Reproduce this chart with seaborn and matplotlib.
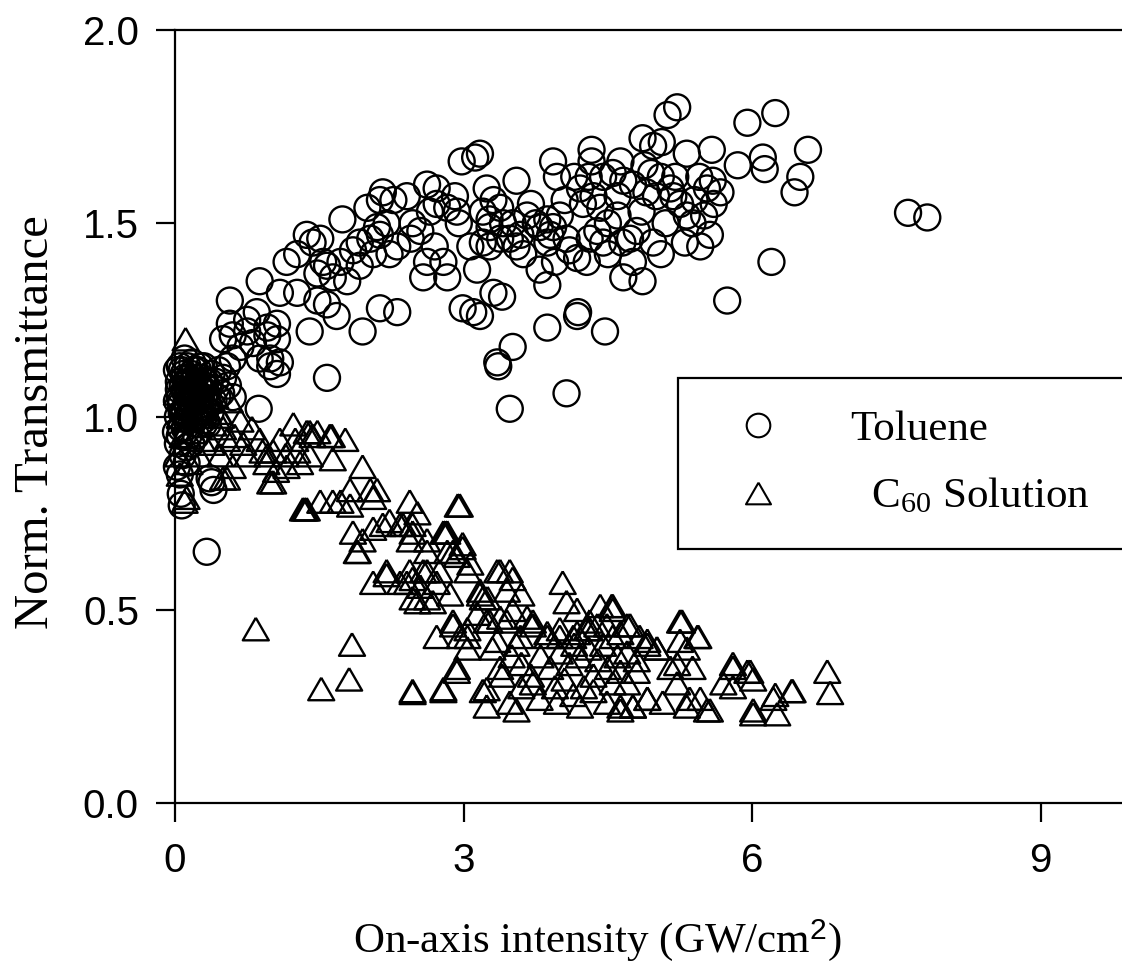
import numpy as np
import pandas as pd
import matplotlib
matplotlib.use("Agg")
import matplotlib.pyplot as plt
from matplotlib.lines import Line2D
import seaborn as sns

# ---------------- data ----------------
toluene_x = [
    7.62, 7.82,
    5.12, 5.22, 5.95, 6.24, 6.58, 6.50, 6.44, 5.85, 6.11, 6.13, 6.20, 5.74, 5.58, 5.32,
    4.86, 4.97, 5.06, 5.59, 5.67, 5.53, 5.56, 5.46, 5.15, 5.18, 5.38, 5.32, 4.66, 4.76,
    4.63, 4.80, 4.73, 4.97, 4.76, 4.66, 4.86, 4.33, 4.33, 3.93, 3.97, 4.21, 4.35, 4.42,
    4.24, 4.39, 4.31, 4.45, 4.28, 4.18, 4.07, 4.10, 3.87, 3.93, 3.79, 3.87, 3.90, 3.79,
    3.87, 3.55, 3.59, 3.66, 3.51, 3.48, 3.55, 3.38, 3.27, 3.24, 3.31, 3.27, 3.20, 3.38,
    3.41, 3.17, 3.31, 3.40, 3.17, 3.87, 4.19, 4.18, 4.47, 3.51, 3.36, 4.07, 3.48,
    4.95, 5.05, 5.00, 4.90, 4.55, 4.60, 4.50, 4.60, 5.10, 5.25, 5.40, 5.45, 5.50, 4.85,
    5.20, 4.45, 3.70, 3.75, 3.62, 4.00, 4.05, 4.15, 3.95, 4.30, 5.60, 5.30, 4.50, 4.65,
    4.88, 5.05,
    1.74, 1.37, 1.43, 1.51, 1.16, 1.27, 0.88, 0.57, 1.09, 1.27, 1.48, 1.58, 1.64, 1.79,
    1.54, 1.72, 1.92, 2.03, 2.10, 2.13, 2.06, 1.85, 1.92, 2.23, 2.31, 2.00, 2.13, 2.27,
    2.41, 2.16, 1.58, 1.48, 1.68, 1.40, 1.95, 2.13, 2.31, 2.55, 2.47, 2.62, 2.58, 2.83,
    2.79, 2.72, 2.83, 2.93, 2.72, 2.62, 2.99, 3.10, 3.14, 3.07, 3.20, 3.27, 3.35, 1.58,
    2.98, 3.12, 2.91, 2.65, 2.45, 2.70, 2.95, 2.20,
    0.57, 0.60, 0.50, 0.75, 0.75, 0.68, 0.81, 0.96, 1.06, 0.99, 1.09, 0.88, 0.96, 1.06,
    0.85, 0.99, 1.06, 0.60, 0.54, 0.87,
    0.07, 0.05, 0.02, 0.40, 0.36, 0.33, 0.08, 0.12,
    0.03, 0.05, 0.08, 0.10, 0.12, 0.15, 0.18, 0.20, 0.22, 0.25, 0.28, 0.30, 0.32, 0.35,
    0.38, 0.40, 0.05, 0.10, 0.15, 0.20, 0.25, 0.07, 0.13, 0.18, 0.24, 0.30, 0.42, 0.45,
    0.48, 0.03, 0.12, 0.17, 0.22, 0.27, 0.09, 0.02, 0.04, 0.16, 0.34, 0.50, 0.55, 0.60,
    0.38, 0.06,
    0.04, 0.06, 0.09, 0.11, 0.14, 0.16, 0.19, 0.21, 0.23, 0.26, 0.29, 0.31, 0.33, 0.36,
    0.02, 0.07, 0.10, 0.13, 0.17, 0.20, 0.24, 0.27, 0.31, 0.35, 0.44, 0.06, 0.14, 0.22,
    0.29, 0.37, 0.01, 0.05, 0.10, 0.15, 0.19, 0.26,
]
toluene_y = [
    1.527, 1.515,
    1.78, 1.80, 1.76, 1.785, 1.69, 1.62, 1.58, 1.65, 1.67, 1.64, 1.40, 1.30, 1.69, 1.68,
    1.72, 1.70, 1.71, 1.61, 1.58, 1.59, 1.47, 1.44, 1.59, 1.57, 1.50, 1.52, 1.61, 1.60,
    1.66, 1.48, 1.46, 1.45, 1.40, 1.36, 1.35, 1.69, 1.66, 1.66, 1.62, 1.59, 1.57, 1.54,
    1.55, 1.48, 1.46, 1.45, 1.40, 1.41, 1.46, 1.43, 1.51, 1.49, 1.49, 1.45, 1.47, 1.38,
    1.34, 1.61, 1.47, 1.52, 1.50, 1.46, 1.44, 1.46, 1.44, 1.59, 1.56, 1.51, 1.53, 1.54,
    1.50, 1.68, 1.32, 1.31, 1.26, 1.23, 1.27, 1.26, 1.22, 1.18, 1.13, 1.06, 1.02,
    1.63, 1.62, 1.57, 1.58, 1.63, 1.57, 1.50, 1.52, 1.50, 1.55, 1.56, 1.62, 1.52, 1.53,
    1.62, 1.62, 1.55, 1.50, 1.42, 1.52, 1.56, 1.62, 1.40, 1.62, 1.55, 1.45, 1.42, 1.45,
    1.65, 1.42,
    1.51, 1.47, 1.45, 1.46, 1.40, 1.42, 1.35, 1.30, 1.32, 1.32, 1.37, 1.39, 1.36, 1.35,
    1.40, 1.40, 1.45, 1.46, 1.49, 1.47, 1.42, 1.43, 1.39, 1.42, 1.44, 1.54, 1.56, 1.56,
    1.57, 1.58, 1.29, 1.30, 1.26, 1.22, 1.22, 1.28, 1.27, 1.48, 1.50, 1.40, 1.36, 1.36,
    1.40, 1.55, 1.54, 1.53, 1.59, 1.60, 1.28, 1.27, 1.38, 1.44, 1.45, 1.49, 1.14, 1.10,
    1.66, 1.67, 1.57, 1.53, 1.46, 1.44, 1.50, 1.50,
    1.24, 1.21, 1.20, 1.25, 1.22, 1.18, 1.19, 1.21, 1.20, 1.15, 1.14, 1.15, 1.23, 1.24,
    1.27, 1.13, 1.11, 1.15, 1.13, 1.02,
    0.77, 0.85, 0.87, 0.81, 0.84, 0.65, 0.90, 0.92,
    1.00, 1.05, 1.08, 1.10, 1.03, 1.06, 1.09, 1.12, 1.04, 1.08, 1.10, 1.05, 1.02, 1.07,
    1.11, 1.04, 0.95, 0.97, 0.99, 1.00, 0.98, 1.12, 1.13, 1.14, 1.12, 1.13, 1.09, 1.12,
    1.06, 0.93, 0.88, 0.93, 0.95, 1.01, 1.01, 1.04, 1.09, 1.02, 0.98, 1.10, 1.08, 1.05,
    0.83, 0.80,
    1.07, 1.03, 1.11, 1.06, 1.09, 1.04, 1.07, 1.10, 1.06, 1.03, 1.07, 1.09, 1.06, 1.09,
    1.12, 1.01, 1.07, 1.00, 1.11, 1.07, 1.02, 1.05, 1.08, 1.03, 1.05, 0.97, 0.95, 1.06,
    0.99, 1.01, 0.96, 1.13, 1.15, 1.10, 1.05, 1.13,
]

c60_x = [
    0.11, 0.10, 0.50, 1.02, 1.33, 0.84, 1.84, 1.81, 1.52, 2.47, 2.79, 2.94,
    1.23, 1.43, 1.61, 1.77, 1.64, 1.95, 1.02, 0.91,
    1.51, 1.72, 1.82, 2.03, 2.06,
    1.85, 2.06, 2.16, 1.95, 1.89,
    2.44, 2.52, 2.37, 2.47, 2.62, 2.83,
    2.06, 2.20, 2.41, 2.55, 2.72, 2.47, 2.62, 2.68,
    2.89, 2.99, 3.07, 3.17, 3.20,
    2.72, 2.89, 2.96, 3.04, 2.93, 3.24, 3.24,
    1.37, 1.48, 1.63, 1.40, 1.82, 2.10, 1.64, 1.35, 2.96,
    2.23, 2.34, 2.47, 2.79, 2.99, 1.90, 2.44, 2.62, 2.83, 2.93,
    2.20, 2.34, 2.47, 2.62, 2.75, 2.86, 3.04, 2.52, 3.17, 3.38, 3.51,
    4.03, 4.42, 4.55, 4.07, 4.18, 4.31,
    2.89, 3.04, 3.14, 3.24, 3.38, 3.51, 3.66, 3.72, 3.87, 4.00, 4.18, 4.31, 4.49, 4.63,
    2.81, 2.58, 2.44, 3.35, 3.48, 4.54,
    3.04, 3.27, 3.45, 3.59, 3.72, 3.87, 4.00, 4.14, 4.28, 4.39, 4.55, 4.70, 4.83, 4.91,
    5.01, 5.25, 5.43, 5.32, 5.22,
    2.93, 3.38, 3.20, 3.48, 3.55, 3.72, 3.79, 3.97, 4.14, 4.21, 4.35, 4.49, 4.63,
    4.76, 4.70, 4.91, 5.07, 5.22, 5.35, 5.46, 5.56, 5.70, 5.80, 5.98, 6.01, 6.22, 6.26,
    6.42, 6.78, 6.81, 2.47, 2.79,
    5.27, 5.44, 5.25, 5.80, 5.95, 6.01, 6.41, 6.24, 6.01, 5.53, 5.80, 5.15, 5.38, 4.73,
    4.91, 5.01, 4.63, 4.80, 4.55, 4.63, 4.76, 4.91, 5.32,
    3.30, 3.50, 3.60, 3.80, 3.90, 4.00, 4.10, 4.20, 4.30, 4.40, 4.50, 4.60, 4.70, 4.80,
    3.40, 3.70, 4.05, 4.35, 4.55, 3.95, 3.60, 4.25, 3.35, 3.55, 4.15, 4.45,
    3.25, 3.45, 3.60,
    0.99, 1.37, 1.40, 1.09, 1.27, 0.96, 1.16, 0.68, 0.54, 0.71, 0.47, 0.60, 0.54, 0.12,
    0.05, 0.10, 0.15, 0.20, 0.25, 0.30, 0.35, 0.40, 0.45, 0.08, 0.18, 0.28, 0.38, 0.12,
    0.22, 0.03, 0.57, 0.50, 0.62, 0.80, 0.75, 0.88, 0.05, 0.15, 0.25,
    0.95, 1.05, 1.15, 1.25, 1.30,
    0.07, 0.14, 0.21, 0.27, 0.33, 0.42, 0.48, 0.02, 0.11, 0.19,
]
c60_y = [
    1.20, 0.78, 0.84, 0.83, 0.76, 0.45, 0.41, 0.32, 0.295, 0.29, 0.295, 0.77,
    0.98, 0.95, 0.95, 0.94, 0.89, 0.87, 0.91, 0.91,
    0.78, 0.78, 0.77, 0.81, 0.79,
    0.70, 0.71, 0.72, 0.68, 0.65,
    0.78, 0.75, 0.72, 0.70, 0.68, 0.70,
    0.57, 0.59, 0.57, 0.56, 0.57, 0.53, 0.53, 0.52,
    0.65, 0.66, 0.62, 0.55, 0.53,
    0.43, 0.46, 0.43, 0.40, 0.35, 0.295, 0.25,
    0.96, 0.96, 0.95, 0.90, 0.81, 0.81, 0.78, 0.76, 0.77,
    0.73, 0.72, 0.72, 0.70, 0.67, 0.65, 0.68, 0.65, 0.65, 0.64,
    0.60, 0.57, 0.58, 0.60, 0.60, 0.54, 0.60, 0.52, 0.54, 0.60, 0.58,
    0.57, 0.51, 0.51, 0.52, 0.50, 0.47,
    0.47, 0.45, 0.49, 0.47, 0.48, 0.50, 0.48, 0.46, 0.44, 0.45, 0.44, 0.45, 0.46, 0.44,
    0.70, 0.60, 0.60, 0.60, 0.60, 0.51,
    0.43, 0.47, 0.47, 0.43, 0.47, 0.43, 0.43, 0.43, 0.45, 0.46, 0.43, 0.46, 0.43, 0.41,
    0.40, 0.47, 0.43, 0.40, 0.36,
    0.34, 0.35, 0.29, 0.26, 0.24, 0.31, 0.27, 0.26, 0.28, 0.25, 0.29, 0.26, 0.24,
    0.25, 0.31, 0.27, 0.26, 0.31, 0.27, 0.27, 0.24, 0.31, 0.35, 0.34, 0.24, 0.27, 0.23,
    0.29, 0.34, 0.285, 0.285, 0.29,
    0.47, 0.43, 0.42, 0.36, 0.34, 0.32, 0.29, 0.28, 0.23, 0.24, 0.30, 0.35, 0.35, 0.46,
    0.42, 0.40, 0.34, 0.34, 0.50, 0.25, 0.25, 0.27, 0.25,
    0.40, 0.38, 0.36, 0.38, 0.35, 0.39, 0.36, 0.38, 0.40, 0.37, 0.35, 0.38, 0.39, 0.37,
    0.33, 0.33, 0.32, 0.33, 0.31, 0.30, 0.30, 0.30, 0.42, 0.41, 0.41, 0.41,
    0.53, 0.55, 0.54,
    0.83, 0.76, 0.96, 0.94, 0.91, 0.90, 0.87, 0.99, 0.94, 0.93, 0.90, 0.87, 0.84, 0.79,
    1.00, 1.05, 1.08, 1.02, 1.06, 1.00, 1.04, 0.98, 1.01, 0.95, 0.96, 0.94, 0.93, 1.12,
    1.10, 0.90, 1.04, 0.97, 0.95, 0.97, 0.90, 0.94, 0.85, 0.88, 0.90,
    0.88, 0.86, 0.90, 0.94, 0.88,
    1.03, 1.07, 1.04, 1.08, 1.02, 1.05, 1.00, 1.06, 0.99, 1.01,
]

series_names = ["Toluene", "C$_{60}$ Solution"]
x_ticks = [0, 3, 6, 9]
y_ticks = [0.0, 0.5, 1.0, 1.5, 2.0]
x_label = "On-axis intensity (GW/cm$^{\\mathsf{2}}$)"
y_label = "Norm. Transmittance"

# ---------------- style ----------------
sns.set_style("ticks")
plt.rcParams["font.family"] = ["Liberation Sans", "DejaVu Sans"]
plt.rcParams["mathtext.fontset"] = "custom"
plt.rcParams["mathtext.rm"] = "Liberation Serif"
plt.rcParams["mathtext.it"] = "Liberation Serif:italic"
plt.rcParams["mathtext.bf"] = "Liberation Serif:bold"
plt.rcParams["mathtext.sf"] = "Liberation Sans"
for key in ["text.color", "axes.labelcolor", "xtick.color", "ytick.color", "axes.edgecolor"]:
    plt.rcParams[key] = "black"

df_t = pd.DataFrame({"x": toluene_x, "y": toluene_y})
df_c = pd.DataFrame({"x": c60_x, "y": c60_y})

fig = plt.figure(figsize=(11.22, 9.75), dpi=100)
ax = fig.add_axes([175 / 1122, 1 - 803 / 975, 962 / 1122, (803 - 30) / 975])

tri = [(0, 0.866), (-1, -0.866), (1, -0.866), (0, 0.866)]
lw = 1.7

sns.scatterplot(data=df_t, x="x", y="y", ax=ax, marker="o", s=350,
                facecolors="none", edgecolor="black", linewidth=lw, legend=False)
sns.scatterplot(data=df_c, x="x", y="y", ax=ax, marker=tri, s=350,
                facecolors="none", edgecolor="black", linewidth=lw, legend=False)
for coll in ax.collections:
    coll.set_facecolor("none")
    coll.set_edgecolor("black")
    coll.set_clip_on(False)

ax.set_xlim(0, 10)
ax.set_ylim(0, 2.0)
ax.set_xticks(x_ticks)
ax.set_yticks(y_ticks)
ax.set_yticklabels([f"{v:.1f}" for v in y_ticks])

for side in ["left", "bottom", "top", "right"]:
    ax.spines[side].set_visible(True)
    ax.spines[side].set_linewidth(1.6)
    ax.spines[side].set_color("black")

ax.tick_params(axis="both", direction="out", length=14, width=1.6, colors="black",
               labelsize=29)
ax.tick_params(axis="x", pad=14)
ax.tick_params(axis="y", pad=12)

ax.set_xlabel(x_label, fontsize=31, family="Liberation Serif")
ax.set_ylabel(y_label, fontsize=35, family="Liberation Serif")
ax.xaxis.set_label_coords((597 - 175) / 962, -(940 - 803) / 773)
ax.yaxis.set_label_coords(-(175 - 36) / 962, (803 - 422) / 773)
ax.xaxis.label.set_va("center")
ax.yaxis.label.set_va("center")

handles = [
    Line2D([], [], marker="o", ls="none", mfc="none", mec="black", ms=17, mew=1.5),
    Line2D([], [], marker=tri, ls="none", mfc="none", mec="black", ms=18, mew=1.5),
]
labels = [series_names[0], "  " + series_names[1]]
top_frac = (803 - 378) / 773
leg = ax.legend(handles, labels, loc="upper left",
                bbox_to_anchor=((678 - 175) / 962, top_frac - 0.01, 0.6, 0.01),
                mode="expand", frameon=True, fancybox=False, framealpha=1,
                edgecolor="black", prop={"family": "Liberation Serif", "size": 31},
                borderpad=0.75, handlelength=2.2, handletextpad=1.05,
                labelspacing=0.64, borderaxespad=0)
leg.get_frame().set_linewidth(1.6)

fig.savefig("out.png", dpi=100)
